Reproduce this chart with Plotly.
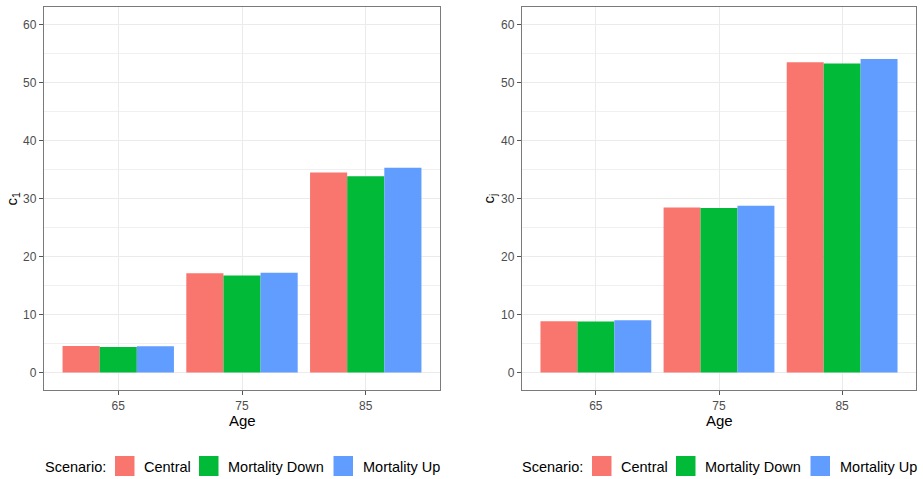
import plotly.graph_objects as go

ages = ["65", "75", "85"]
scenarios = ["Central", "Mortality Down", "Mortality Up"]
colors = ["#F8766D", "#00BA38", "#619CFF"]

c1_central = [4.6, 17.1, 34.5]
c1_down = [4.4, 16.75, 33.85]
c1_up = [4.55, 17.2, 35.3]

cj_central = [8.85, 28.45, 53.5]
cj_down = [8.8, 28.35, 53.25]
cj_up = [9.0, 28.75, 54.05]

y_ticks = [0, 10, 20, 30, 40, 50, 60]

W, H = 923, 479
FONT = "Liberation Sans, Arial, sans-serif"

fig = go.Figure()
panels = [
    ("x", "y", [c1_central, c1_down, c1_up]),
    ("x2", "y2", [cj_central, cj_down, cj_up]),
]
for xa, ya, series in panels:
    for name, vals, col in zip(scenarios, series, colors):
        fig.add_trace(go.Bar(x=ages, y=vals, name=name, marker=dict(color=col, line=dict(width=0)),
                             xaxis=xa, yaxis=ya, showlegend=False))

def px(x):
    return x / W

def py(y):
    return 1 - y / H

axis_common = dict(showline=True, mirror=True, linecolor="#7a7a7a", linewidth=1.3,
                   ticks="outside", ticklen=4, tickcolor="#555555", tickwidth=1,
                   gridcolor="#EBEBEB", gridwidth=1.4, zeroline=False,
                   tickfont=dict(family=FONT, size=12, color="#4D4D4D"))

left = (44, 440)
right = (522, 916)
top, bottom = 7, 390

minor = dict(dtick=5, tick0=0, showgrid=True, gridcolor="#F0F0F0", gridwidth=1, ticks="")

fig.update_layout(
    width=W, height=H, margin=dict(l=0, r=0, t=0, b=0),
    paper_bgcolor="white", plot_bgcolor="white",
    barmode="group", bargap=0.1, bargroupgap=0,
    showlegend=False,
    font=dict(family=FONT),
    xaxis=dict(domain=[px(left[0]), px(left[1])], anchor="y", type="category",
               range=[-0.6, 2.6], **axis_common),
    yaxis=dict(domain=[py(bottom), py(top)], anchor="x", range=[-3, 63],
               tickvals=y_ticks, minor=minor, **axis_common),
    xaxis2=dict(domain=[px(right[0]), px(right[1])], anchor="y2", type="category",
                range=[-0.6, 2.6], **axis_common),
    yaxis2=dict(domain=[py(bottom), py(top)], anchor="x2", range=[-3, 63],
                tickvals=y_ticks, minor=minor, **axis_common),
)

annotations = []
shapes = []
ytitles = ["c<sub>1</sub>", "c<sub>j</sub>"]
for i, (l, r) in enumerate([left, right]):
    off = 0 if i == 0 else 477
    annotations.append(dict(text="Age", x=px((l + r) / 2), y=py(420), xref="paper", yref="paper",
                            showarrow=False, xanchor="center", yanchor="middle",
                            font=dict(family=FONT, size=15, color="black")))
    annotations.append(dict(text=ytitles[i], x=px(12 + off), y=py((top + bottom) / 2), xref="paper",
                            yref="paper", showarrow=False, textangle=-90, xanchor="center",
                            yanchor="middle", font=dict(family=FONT, size=15, color="black")))
    ly = 466.5
    annotations.append(dict(text="Scenario:", x=px(43 + off), y=py(ly), xref="paper", yref="paper",
                            showarrow=False, xanchor="left", yanchor="middle",
                            font=dict(family=FONT, size=14.5, color="black")))
    keys = [115, 199, 333.5]
    texts_x = [142, 226, 361]
    for k, (kx, tx) in enumerate(zip(keys, texts_x)):
        shapes.append(dict(type="rect", xref="paper", yref="paper",
                           x0=px(kx + off), x1=px(kx + 19.5 + off), y0=py(476), y1=py(456),
                           fillcolor=colors[k], line=dict(width=0)))
        annotations.append(dict(text=scenarios[k], x=px(tx + off), y=py(ly), xref="paper", yref="paper",
                                showarrow=False, xanchor="left", yanchor="middle",
                                font=dict(family=FONT, size=14.5, color="black")))

fig.update_layout(annotations=annotations, shapes=shapes)
fig.write_html("out.html")
